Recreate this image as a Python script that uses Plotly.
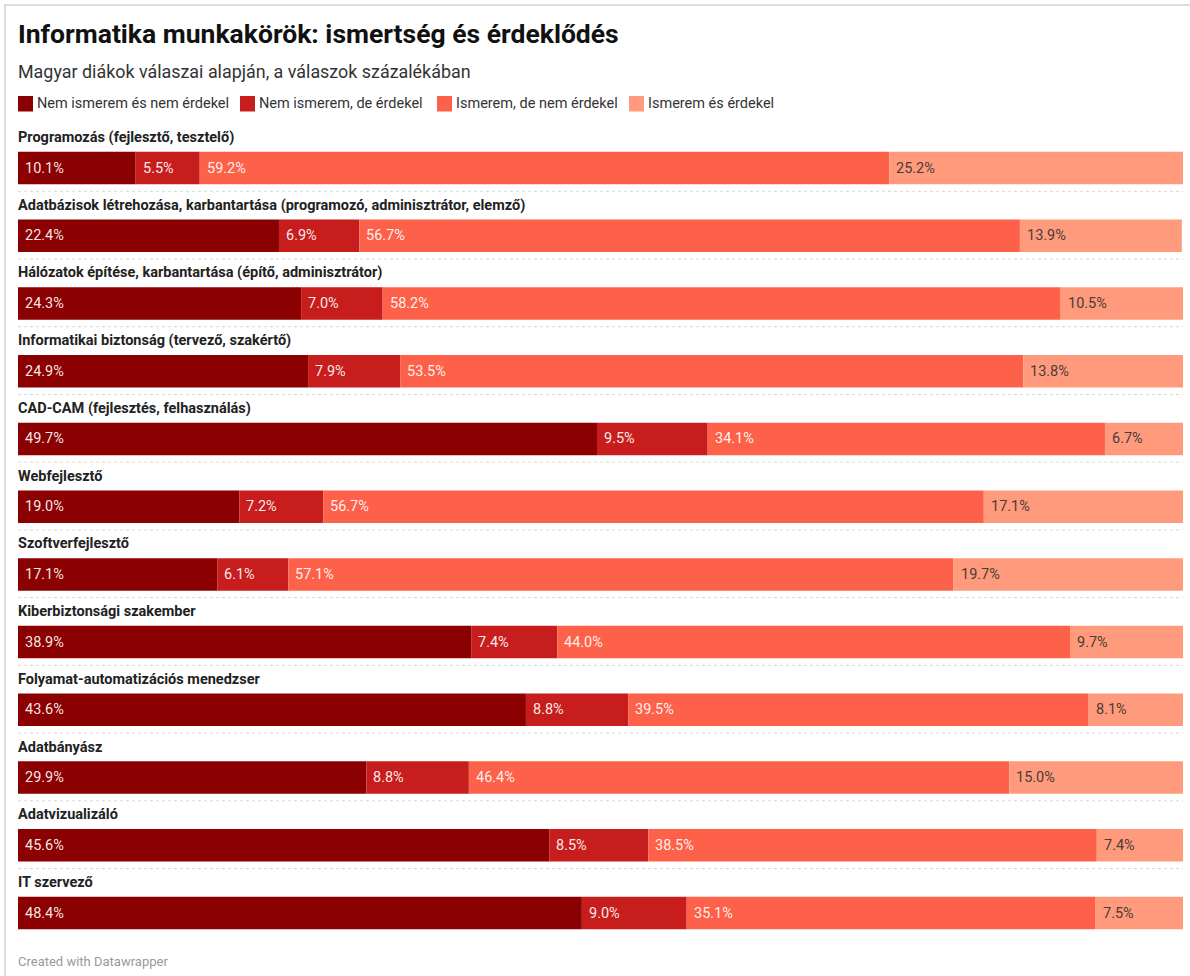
import plotly.graph_objects as go

# ---------------- data ----------------
categories = [
    "Programozás (fejlesztő, tesztelő)",
    "Adatbázisok létrehozása, karbantartása (programozó, adminisztrátor, elemző)",
    "Hálózatok építése, karbantartása (építő, adminisztrátor)",
    "Informatikai biztonság (tervező, szakértő)",
    "CAD-CAM (fejlesztés, felhasználás)",
    "Webfejlesztő",
    "Szoftverfejlesztő",
    "Kiberbiztonsági szakember",
    "Folyamat-automatizációs menedzser",
    "Adatbányász",
    "Adatvizualizáló",
    "IT szervező",
]
series_names = [
    "Nem ismerem és nem érdekel",
    "Nem ismerem, de érdekel",
    "Ismerem, de nem érdekel",
    "Ismerem és érdekel",
]
nem_nem = [10.1, 22.4, 24.3, 24.9, 49.7, 19.0, 17.1, 38.9, 43.6, 29.9, 45.6, 48.4]
nem_de = [5.5, 6.9, 7.0, 7.9, 9.5, 7.2, 6.1, 7.4, 8.8, 8.8, 8.5, 9.0]
ism_nem = [59.2, 56.7, 58.2, 53.5, 34.1, 56.7, 57.1, 44.0, 39.5, 46.4, 38.5, 35.1]
ism_es = [25.2, 13.9, 10.5, 13.8, 6.7, 17.1, 19.7, 9.7, 8.1, 15.0, 7.4, 7.5]
series_values = [nem_nem, nem_de, ism_nem, ism_es]

title = "Informatika munkakörök: ismertség és érdeklődés"
subtitle = "Magyar diákok válaszai alapján, a válaszok százalékában"
footer = "Created with Datawrapper"

# ---------------- style ----------------
colors = ["#8b0000", "#c71e1d", "#fe614a", "#ff9b7c"]
text_colors = ["rgba(255,255,255,0.92)", "rgba(255,255,255,0.92)",
               "rgba(255,255,255,0.92)", "#4a3c38"]
FONT = "Roboto, 'Open Sans', Arial, sans-serif"

W, H = 1190, 976
ML, MR, MT, MB = 18, 7, 118, 36
PW, PH = W - ML - MR, H - MT - MB
ROW_PX = 67.73           # pixel spacing between rows
FIRST_CENTER_PX = 168.0  # pixel y of first bar centre
BAR_PX = 32.5

unit = ROW_PX  # 1 y-unit == one row
y_top = (FIRST_CENTER_PX - MT) / unit
y_bot = -(len(categories) - 1) - (MT + PH - (FIRST_CENTER_PX + ROW_PX * (len(categories) - 1))) / unit

def px_x(p):
    return (p - ML) / PW

def px_y(p):
    return 1 - (p - MT) / PH

ys = [-i for i in range(len(categories))]

fig = go.Figure()
bases = [0.0] * len(categories)
annotations = []
for s, (name, vals) in enumerate(zip(series_names, series_values)):
    fig.add_trace(go.Bar(
        name=name, orientation="h", x=vals, y=ys, base=list(bases),
        width=BAR_PX / unit, marker=dict(color=colors[s], line=dict(width=0)),
        hoverinfo="skip", showlegend=False,
    ))
    for i, v in enumerate(vals):
        annotations.append(dict(
            x=bases[i], y=ys[i], xref="x", yref="y", text=f"{v:.1f}%",
            showarrow=False, xanchor="left", yanchor="middle", xshift=5,
            font=dict(family=FONT, size=14.5, color=text_colors[s]),
        ))
    bases = [b + v for b, v in zip(bases, vals)]

# row labels
label_offset = (FIRST_CENTER_PX - 137.5) / unit
for i, c in enumerate(categories):
    annotations.append(dict(
        x=0, y=ys[i] + label_offset, xref="x", yref="y", text=f"<b>{c}</b>",
        showarrow=False, xanchor="left", yanchor="middle", xshift=-2,
        font=dict(family=FONT, size=14.5, color="#222222"),
    ))

shapes = []
# dotted separators
sep_offset = (BAR_PX / 2 + 7) / unit
for i in range(len(categories) - 1):
    shapes.append(dict(
        type="line", xref="x", yref="y", x0=0, x1=100,
        y0=ys[i] - sep_offset, y1=ys[i] - sep_offset,
        line=dict(color="#d6d6d6", width=1, dash="dot"),
    ))

# title/subtitle/footer
annotations.append(dict(x=px_x(16), y=px_y(33), xref="paper", yref="paper",
                        text=f"<b>{title}</b>", showarrow=False,
                        xanchor="left", yanchor="middle",
                        font=dict(family=FONT, size=26.5, color="#111111")))
annotations.append(dict(x=px_x(16), y=px_y(72), xref="paper", yref="paper",
                        text=subtitle, showarrow=False,
                        xanchor="left", yanchor="middle",
                        font=dict(family=FONT, size=17.9, color="#333333")))
annotations.append(dict(x=px_x(16), y=px_y(961), xref="paper", yref="paper",
                        text=footer, showarrow=False,
                        xanchor="left", yanchor="middle",
                        font=dict(family=FONT, size=13, color="#9a9a9a")))

# legend (manual)
legend_x = [18, 240, 437, 629]
for s, name in enumerate(series_names):
    x0 = legend_x[s]
    shapes.append(dict(type="rect", xref="paper", yref="paper",
                       x0=px_x(x0), x1=px_x(x0 + 15), y0=px_y(96), y1=px_y(111.5),
                       fillcolor=colors[s], line=dict(width=0)))
    annotations.append(dict(x=px_x(x0 + 17), y=px_y(103.5), xref="paper", yref="paper",
                            text=name, showarrow=False, xanchor="left", yanchor="middle",
                            font=dict(family=FONT, size=14.5, color="#333333")))

# frame lines (top and left)
shapes.append(dict(type="line", xref="paper", yref="paper",
                   x0=px_x(4), x1=px_x(1190), y0=px_y(5), y1=px_y(5),
                   line=dict(color="#dcdcdc", width=2)))
shapes.append(dict(type="line", xref="paper", yref="paper",
                   x0=px_x(5), x1=px_x(5), y0=px_y(4), y1=px_y(976),
                   line=dict(color="#dcdcdc", width=2)))

fig.update_layout(
    width=W, height=H,
    margin=dict(l=ML, r=MR, t=MT, b=MB, pad=0),
    barmode="overlay",
    paper_bgcolor="white", plot_bgcolor="white",
    xaxis=dict(range=[0, 100], visible=False, fixedrange=True),
    yaxis=dict(range=[y_bot, y_top], visible=False, fixedrange=True),
    annotations=annotations, shapes=shapes,
    font=dict(family=FONT),
)

fig.write_html("out.html", config={"displayModeBar": False},
               post_script="document.body.style.margin='0';document.body.style.overflow='hidden';")
